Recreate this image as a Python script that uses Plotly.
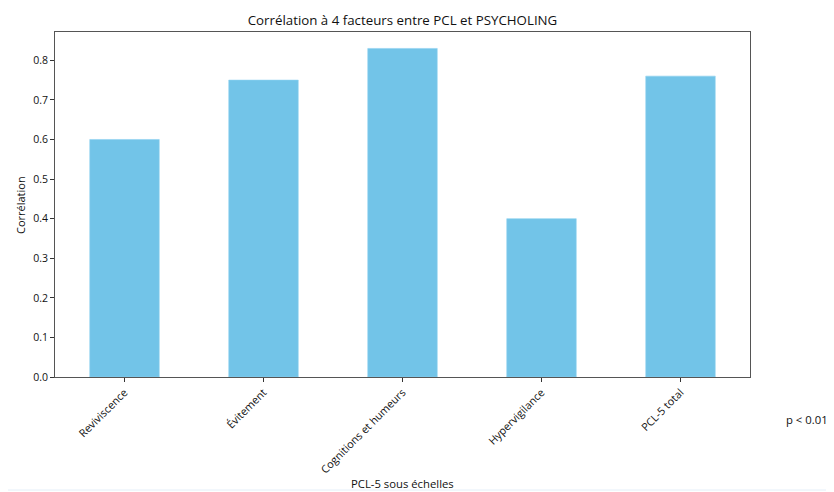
import plotly.graph_objects as go

categories = ["Reviviscence", "Évitement", "Cognitions et humeurs", "Hypervigilance", "PCL-5 total"]
correlations = [0.60, 0.75, 0.83, 0.40, 0.76]
y_ticks = [0.0, 0.1, 0.2, 0.3, 0.4, 0.5, 0.6, 0.7, 0.8]

OFF = 8  # default page body margin
W, H = 834 - OFF, 492 - OFF
PL, PR, PT, PB = 55, 750, 32, 377  # target plot box in window pixels
L, T = PL - OFF, PT - OFF
R = OFF + W - PR
B = OFF + H - PB
pw, ph = PR - PL, PB - PT

def px_x(x):
    return (x - PL) / pw

def px_y(y):
    return (PB - y) / ph

font = "Open Sans, DejaVu Sans, sans-serif"
tc = "#111111"

fig = go.Figure(go.Bar(
    x=list(range(len(categories))),
    y=correlations,
    width=0.5,
    marker=dict(color="#72c4e8", line=dict(color="#8fd2f0", width=0.6)),
))

fig.update_layout(
    width=W, height=H,
    margin=dict(l=L, r=R, t=T, b=B),
    paper_bgcolor="white", plot_bgcolor="white",
    showlegend=False,
    font=dict(family=font, size=10.5, color=tc),
    title=dict(text="Corrélation à 4 facteurs entre PCL et PSYCHOLING",
               x=0.5, xref="paper", y=1 - (20 - OFF) / H, yref="container",
               xanchor="center", yanchor="middle",
               font=dict(family=font, size=13.3, color=tc)),
    xaxis=dict(
        range=[-0.5, len(categories) - 0.5],
        tickmode="array", tickvals=list(range(len(categories))), ticktext=categories,
        tickangle=-45, ticks="outside", ticklen=4, tickwidth=1, tickcolor="#333",
        showline=True, linecolor="#555", linewidth=1, mirror=True,
        showgrid=False, zeroline=False,
        tickfont=dict(family=font, size=10.8, color=tc),
    ),
    yaxis=dict(
        range=[0, 0.8715],
        tickmode="array", tickvals=y_ticks, ticktext=[f"{v:.1f}" for v in y_ticks],
        ticks="outside", ticklen=4, tickwidth=1, tickcolor="#333",
        showline=True, linecolor="#555", linewidth=1, mirror=True,
        showgrid=False, zeroline=False,
        tickfont=dict(family=font, size=10.5, color=tc),
    ),
    annotations=[
        dict(text="PCL-5 sous échelles", xref="paper", yref="paper",
             x=px_x(403), y=px_y(483), xanchor="center", yanchor="middle",
             showarrow=False, font=dict(family=font, size=11.3, color=tc)),
        dict(text="Corrélation", xref="paper", yref="paper",
             x=px_x(21), y=px_y(205), xanchor="center", yanchor="middle",
             textangle=-90, showarrow=False, font=dict(family=font, size=11, color=tc)),
        dict(text="p < 0.01", xref="paper", yref="paper",
             x=px_x(807), y=px_y(419), xanchor="center", yanchor="middle",
             showarrow=False, font=dict(family=font, size=11.3, color=tc)),
    ],
    shapes=[
        dict(type="rect", xref="paper", yref="paper",
             x0=px_x(7), x1=px_x(845), y0=px_y(490), y1=px_y(7),
             line=dict(color="#e4eef8", width=1), fillcolor="rgba(0,0,0,0)", layer="below"),
    ],
)

fig.write_html("out.html")
